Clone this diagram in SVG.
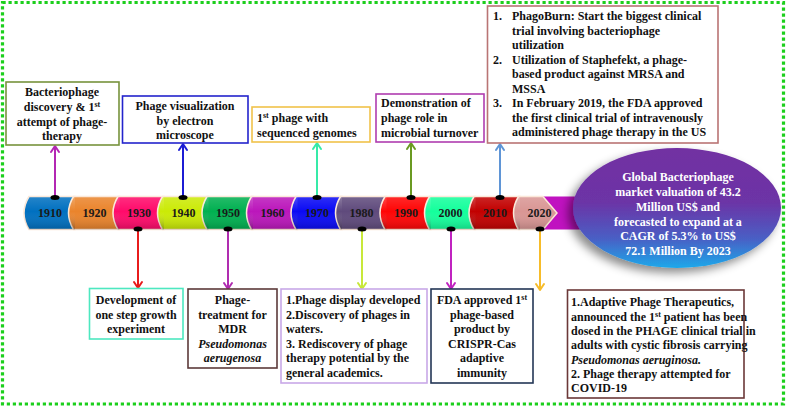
<svg xmlns="http://www.w3.org/2000/svg" width="789" height="407" viewBox="0 0 789 407">
<style>
text{font-family:"Liberation Serif","Times New Roman",serif;font-weight:bold;font-size:12px;fill:#111}
.c{text-anchor:middle}
.i{font-style:italic}
.yr{font-size:12px;text-anchor:middle;fill:#1a1a1a}
.w{fill:#fff}
.box{fill:#fff;stroke-width:1.6}
.seg{stroke:#fbe6d6;stroke-width:1.5}
.ln{fill:none;stroke-width:2;stroke-linecap:round;stroke-linejoin:round}
.dot{fill:#000}
</style>
<defs>
<linearGradient id="shade" x1="0" y1="0" x2="0" y2="1">
<stop offset="0" stop-color="#fff" stop-opacity="0.15"/>
<stop offset="0.45" stop-color="#fff" stop-opacity="0"/>
<stop offset="1" stop-color="#000" stop-opacity="0.18"/>
</linearGradient>
<linearGradient id="eg" x1="0" y1="0" x2="0" y2="1">
<stop offset="0" stop-color="#7230a2"/>
<stop offset="0.45" stop-color="#6c34a6"/>
<stop offset="0.75" stop-color="#4a5ec4"/>
<stop offset="1" stop-color="#1ca8ea"/>
</linearGradient>
<filter id="sh" x="-20%" y="-20%" width="140%" height="150%">
<feDropShadow dx="-5" dy="5" stdDeviation="5" flood-color="#000" flood-opacity="0.45"/>
</filter>
</defs>
<rect x="2.5" y="2.5" width="781" height="401.5" fill="none" stroke="#1ccf1c" stroke-width="3.2" stroke-dasharray="3.2 2.8"/>

<g id="timeline">
<rect x="530" y="196.5" width="75" height="33" fill="#c012c0"/>
<path class="seg" fill="#0070c0" d="M29,196.5H75V229.5H29Q19,213 29,196.5Z"/>
<path class="seg" fill="#ea842c" d="M73.5,196.5H119.5V229.5H73.5Q63.5,213 73.5,196.5Z"/>
<path class="seg" fill="#ff0a6a" d="M118,196.5H164V229.5H118Q108,213 118,196.5Z"/>
<path class="seg" fill="#cbea06" d="M162.5,196.5H208.5V229.5H162.5Q152.5,213 162.5,196.5Z"/>
<path class="seg" fill="#00b050" d="M207,196.5H253V229.5H207Q197,213 207,196.5Z"/>
<path class="seg" fill="#bb16bb" d="M251.5,196.5H297.5V229.5H251.5Q241.5,213 251.5,196.5Z"/>
<path class="seg" fill="#0a0af4" d="M296,196.5H342V229.5H296Q286,213 296,196.5Z"/>
<path class="seg" fill="#5f4a7c" d="M340.5,196.5H386.5V229.5H340.5Q330.5,213 340.5,196.5Z"/>
<path class="seg" fill="#ff0505" d="M385,196.5H431V229.5H385Q375,213 385,196.5Z"/>
<path class="seg" fill="#14ff9c" d="M429.5,196.5H475.5V229.5H429.5Q419.5,213 429.5,196.5Z"/>
<path class="seg" fill="#c20000" d="M474,196.5H520V229.5H474Q464,213 474,196.5Z"/>
<path class="seg" fill="#d99694" d="M518.5,196.5H543L557,213L543,229.5H518.5Q508.5,213 518.5,196.5Z"/>
<g fill="url(#shade)">
<path d="M29,196.5H75V229.5H29Q19,213 29,196.5Z"/>
<path d="M73.5,196.5H119.5V229.5H73.5Q63.5,213 73.5,196.5Z"/>
<path d="M118,196.5H164V229.5H118Q108,213 118,196.5Z"/>
<path d="M162.5,196.5H208.5V229.5H162.5Q152.5,213 162.5,196.5Z"/>
<path d="M207,196.5H253V229.5H207Q197,213 207,196.5Z"/>
<path d="M251.5,196.5H297.5V229.5H251.5Q241.5,213 251.5,196.5Z"/>
<path d="M296,196.5H342V229.5H296Q286,213 296,196.5Z"/>
<path d="M340.5,196.5H386.5V229.5H340.5Q330.5,213 340.5,196.5Z"/>
<path d="M385,196.5H431V229.5H385Q375,213 385,196.5Z"/>
<path d="M429.5,196.5H475.5V229.5H429.5Q419.5,213 429.5,196.5Z"/>
<path d="M474,196.5H520V229.5H474Q464,213 474,196.5Z"/>
<path d="M518.5,196.5H543L557,213L543,229.5H518.5Q508.5,213 518.5,196.5Z"/>
</g>
<text class="yr" x="50" y="217">1910</text>
<text class="yr" x="94.5" y="217">1920</text>
<text class="yr" x="139" y="217">1930</text>
<text class="yr" x="183.5" y="217">1940</text>
<text class="yr" x="228" y="217">1950</text>
<text class="yr" x="272.5" y="217">1960</text>
<text class="yr" x="317" y="217">1970</text>
<text class="yr" x="361.5" y="217">1980</text>
<text class="yr" x="406" y="217">1990</text>
<text class="yr" x="450.5" y="217">2000</text>
<text class="yr" x="495" y="217">2010</text>
<text class="yr" x="539.5" y="217">2020</text>
</g>

<g id="connectors">
<g stroke="#b327b3" class="ln"><path d="M55,197V147"/><path d="M51,152L55,146L59,152"/></g>
<g stroke="#1c1cd4" class="ln"><path d="M183,197V145"/><path d="M179,150L183,144L187,150"/></g>
<g stroke="#36eaa8" class="ln"><path d="M317,197V144"/><path d="M313,149L317,143L321,149"/></g>
<g stroke="#6a9a22" class="ln"><path d="M411,197V144"/><path d="M407,149L411,143L415,149"/></g>
<g stroke="#5f95d6" class="ln"><path d="M500,197V145"/><path d="M496,150L500,144L504,150"/></g>
<g stroke="#e81c1c" class="ln"><path d="M138,229V287"/><path d="M134,282L138,288L142,282"/></g>
<g stroke="#b02db0" class="ln"><path d="M228,229V288"/><path d="M224,283L228,289L232,283"/></g>
<g stroke="#c8e83a" class="ln"><path d="M362,229V288"/><path d="M358,283L362,289L366,283"/></g>
<g stroke="#c023c0" class="ln"><path d="M451,229V288"/><path d="M447,283L451,289L455,283"/></g>
<g stroke="#f7bc2a" class="ln"><path d="M540,229V289"/><path d="M536,284L540,290L544,284"/></g>
<ellipse class="dot" cx="55" cy="197.5" rx="4.5" ry="2.5"/>
<ellipse class="dot" cx="183" cy="197.5" rx="4.5" ry="2.5"/>
<ellipse class="dot" cx="317" cy="197.5" rx="4.5" ry="2.5"/>
<ellipse class="dot" cx="411" cy="197.5" rx="4.5" ry="2.5"/>
<ellipse class="dot" cx="500" cy="197.5" rx="4.5" ry="2.5"/>
<ellipse class="dot" cx="138" cy="229" rx="4.5" ry="2.5"/>
<ellipse class="dot" cx="228" cy="229" rx="4.5" ry="2.5"/>
<ellipse class="dot" cx="362" cy="229" rx="4.5" ry="2.5"/>
<ellipse class="dot" cx="451" cy="229" rx="4.5" ry="2.5"/>
<ellipse class="dot" cx="540" cy="229" rx="4.5" ry="2.5"/>
</g>

<g id="n1910">
<rect class="box" x="6" y="82" width="113" height="63" stroke="#77933c"/>
<text class="c" x="62" y="96">Bacteriophage</text>
<text class="c" x="62" y="111">discovery &amp; 1<tspan font-size="8" dy="-4">st</tspan></text>
<text class="c" x="62" y="126">attempt of phage-</text>
<text class="c" x="62" y="140">therapy</text>
</g>

<g id="n1940">
<rect class="box" x="122.5" y="96" width="125.5" height="47" stroke="#2424cc"/>
<text class="c" x="185" y="110">Phage visualization</text>
<text class="c" x="185" y="124.5">by electron</text>
<text class="c" x="185" y="139">microscope</text>
</g>

<g id="n1970">
<rect class="box" x="252" y="107" width="118" height="35" stroke="#f0c24a"/>
<text x="257" y="122">1<tspan font-size="8" dy="-4">st</tspan><tspan dy="4">  phage with</tspan></text>
<text x="257" y="137">sequenced genomes</text>
</g>

<g id="n1990">
<rect class="box" x="376" y="94" width="108" height="48" stroke="#b03cb0"/>
<text x="381" y="107">Demonstration of</text>
<text x="381" y="122">phage role in</text>
<text x="381" y="137">microbial turnover</text>
</g>

<g id="n2010">
<rect class="box" x="487.5" y="6" width="230.5" height="137" stroke="#b97474"/>
<text x="493" y="20">1.</text>
<text x="512" y="20">PhagoBurn: Start the biggest clinical</text>
<text x="512" y="34.5">trial involving bacteriophage</text>
<text x="512" y="49">utilization</text>
<text x="493" y="63.5">2.</text>
<text x="512" y="63.5">Utilization of Staphefekt, a phage-</text>
<text x="512" y="78">based product against MRSA and</text>
<text x="512" y="92.5">MSSA</text>
<text x="493" y="107">3.</text>
<text x="512" y="107">In February 2019, the FDA approved</text>
<text x="512" y="121.5">the first clinical trial of intravenously</text>
<text x="512" y="136">administered phage therapy in the US</text>
</g>

<g id="market">
<ellipse cx="677" cy="208" rx="104" ry="60" fill="url(#eg)" filter="url(#sh)"/>
<text class="c w" x="678" y="181">Global Bacteriophage</text>
<text class="c w" x="678" y="196">market valuation of 43.2</text>
<text class="c w" x="678" y="211">Million US$ and</text>
<text class="c w" x="678" y="225.5">forecasted to expand at a</text>
<text class="c w" x="678" y="240">CAGR of 5.3% to US$</text>
<text class="c w" x="678" y="254.5">72.1 Million By 2023</text>
</g>

<g id="n1930">
<rect class="box" x="89.5" y="288.5" width="93.5" height="50.5" stroke="#4de8c0"/>
<text class="c" x="136" y="304">Development of</text>
<text class="c" x="136" y="318.5">one step growth</text>
<text class="c" x="136" y="333">experiment</text>
</g>

<g id="n1950">
<rect class="box" x="188" y="289" width="89" height="79" stroke="#5c3a3a"/>
<text class="c" x="232.5" y="304">Phage-</text>
<text class="c" x="232.5" y="318.5">treatment for</text>
<text class="c" x="232.5" y="333">MDR</text>
<text class="c i" x="232.5" y="347.5">Pseudomonas</text>
<text class="c i" x="232.5" y="362">aerugenosa</text>
</g>

<g id="n1980">
<rect class="box" x="281" y="289" width="146" height="94" stroke="#c8a8e8"/>
<text x="286" y="304">1.Phage display developed</text>
<text x="286" y="318.5">2.Discovery of phages in</text>
<text x="286" y="333">waters.</text>
<text x="286" y="347.5">3. Rediscovery of phage</text>
<text x="286" y="362">therapy potential by the</text>
<text x="286" y="376.5">general academics.</text>
</g>

<g id="n2000">
<rect class="box" x="431" y="289" width="102" height="94" stroke="#243656"/>
<text class="c" x="482" y="304">FDA approved 1<tspan font-size="8" dy="-4">st</tspan></text>
<text class="c" x="482" y="318.5">phage-based</text>
<text class="c" x="482" y="333">product by</text>
<text class="c" x="482" y="347.5">CRISPR-Cas</text>
<text class="c" x="482" y="362">adaptive</text>
<text class="c" x="482" y="376.5">immunity</text>
</g>

<g id="n2020">
<rect class="box" x="567.5" y="290" width="176.5" height="108" stroke="#6b3838"/>
<text x="571" y="306">1.Adaptive Phage Therapeutics,</text>
<text x="571" y="320.5">announced the 1<tspan font-size="8" dy="-4">st</tspan><tspan dy="4">  patient has been</tspan></text>
<text x="571" y="335">dosed in the PHAGE clinical trial in</text>
<text x="571" y="349">adults with cystic fibrosis carrying</text>
<text class="i" x="571" y="363.5">Pseudomonas aeruginosa.</text>
<text x="571" y="378">2. Phage therapy attempted for</text>
<text x="571" y="392">COVID-19</text>
</g>
</svg>
